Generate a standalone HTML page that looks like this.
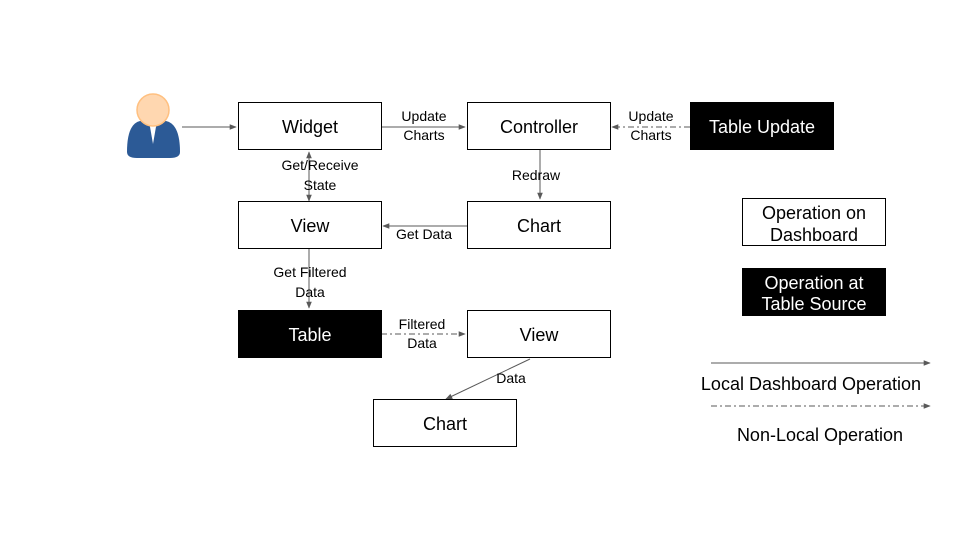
<!DOCTYPE html>
<html><head><meta charset="utf-8"><style>
html,body{margin:0;padding:0;background:#fff}
svg{display:block}
text{font-family:"Liberation Sans",Arial,sans-serif}
</style></head><body>
<svg width="960" height="540" viewBox="0 0 960 540" xmlns="http://www.w3.org/2000/svg">
<defs>
<marker id="a" viewBox="0 0 10 10" refX="9" refY="5" markerWidth="7" markerHeight="7" orient="auto-start-reverse" markerUnits="userSpaceOnUse"><path d="M0,1 L10,5 L0,9 z" fill="#595959"/></marker>
</defs>
<rect width="960" height="540" fill="#fff"/>
<!-- person -->
<path d="M127,152 Q127,124 140,121 L166,121 Q180,124 180,152 Q180,158 170,158 L137,158 Q127,158 127,152 z" fill="#2c5a96"/>
<path d="M149,121 L157,121 L153,144 z" fill="#fff"/>
<circle cx="153" cy="110" r="16" fill="#ffd7b0" stroke="#ffc080" stroke-width="1.5"/>
<g stroke="#595959" stroke-width="1" fill="none">
<line x1="182" y1="127" x2="236" y2="127" marker-end="url(#a)"/>
<line x1="381" y1="127" x2="465" y2="127" marker-end="url(#a)"/>
<line x1="690" y1="127" x2="612" y2="127" stroke-dasharray="6,3,2,3" marker-end="url(#a)"/>
<line x1="309" y1="152" x2="309" y2="201" marker-start="url(#a)" marker-end="url(#a)"/>
<line x1="540" y1="150" x2="540" y2="199" marker-end="url(#a)"/>
<line x1="467" y1="226" x2="383" y2="226" marker-end="url(#a)"/>
<line x1="309" y1="248" x2="309" y2="308" marker-end="url(#a)"/>
<line x1="381" y1="334" x2="465" y2="334" stroke-dasharray="6,3,2,3" marker-end="url(#a)"/>
<line x1="530" y1="359" x2="446" y2="399" marker-end="url(#a)"/>
<line x1="711" y1="363" x2="930" y2="363" marker-end="url(#a)"/>
<line x1="711" y1="406" x2="930" y2="406" stroke-dasharray="6,3,2,3" marker-end="url(#a)"/>
</g>
<g stroke="#000" stroke-width="1">
<rect x="238.5" y="102.5" width="143" height="47" fill="#fff"/>
<rect x="467.5" y="102.5" width="143" height="47" fill="#fff"/>
<rect x="690.5" y="102.5" width="143" height="47" fill="#000"/>
<rect x="238.5" y="201.5" width="143" height="47" fill="#fff"/>
<rect x="467.5" y="201.5" width="143" height="47" fill="#fff"/>
<rect x="238.5" y="310.5" width="143" height="47" fill="#000"/>
<rect x="467.5" y="310.5" width="143" height="47" fill="#fff"/>
<rect x="373.5" y="399.5" width="143" height="47" fill="#fff"/>
<rect x="742.5" y="198.5" width="143" height="47" fill="#fff"/>
<rect x="742.5" y="268.5" width="143" height="47" fill="#000"/>
</g>
<g font-size="18" text-anchor="middle">
<text x="310" y="133">Widget</text>
<text x="539" y="133">Controller</text>
<text x="762" y="133" fill="#fff">Table Update</text>
<text x="310" y="232">View</text>
<text x="539" y="232">Chart</text>
<text x="310" y="341" fill="#fff">Table</text>
<text x="539" y="341">View</text>
<text x="445" y="430">Chart</text>
<text x="814" y="219">Operation on</text>
<text x="814" y="241">Dashboard</text>
<text x="814" y="289" fill="#fff">Operation at</text>
<text x="814" y="310" fill="#fff">Table Source</text>
<text x="811" y="390">Local Dashboard Operation</text>
<text x="820" y="441">Non-Local Operation</text>
</g>
<g font-size="14" text-anchor="middle">
<text x="424" y="121">Update</text>
<text x="424" y="140">Charts</text>
<text x="651" y="121">Update</text>
<text x="651" y="140">Charts</text>
<text x="320" y="170">Get/Receive</text>
<text x="320" y="190">State</text>
<text x="536" y="180">Redraw</text>
<text x="424" y="239">Get Data</text>
<text x="310" y="277">Get Filtered</text>
<text x="310" y="297">Data</text>
<text x="422" y="329">Filtered</text>
<text x="422" y="348">Data</text>
<text x="511" y="383">Data</text>
</g>
</svg>
</body></html>
